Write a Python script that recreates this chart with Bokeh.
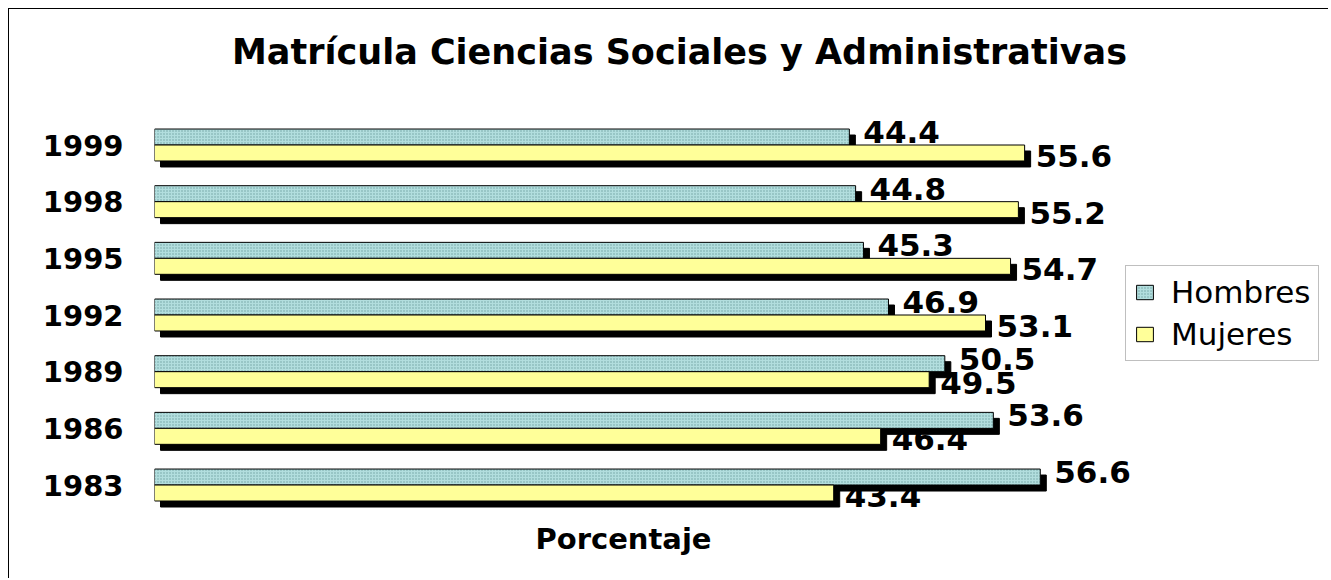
from bokeh.plotting import figure
from bokeh.models import ColumnDataSource, Range1d, FixedTicker, Label, Legend, LegendItem
from bokeh.embed import file_html
from bokeh.resources import INLINE
from bokeh.core.properties import value

# ---- data ----
years = ["1983", "1986", "1989", "1992", "1995", "1998", "1999"]
hombres = [56.6, 53.6, 50.5, 46.9, 45.3, 44.8, 44.4]
mujeres = [43.4, 46.4, 49.5, 53.1, 54.7, 55.2, 55.6]
series_names = ["Hombres", "Mujeres"]
title_text = "Matrícula Ciencias Sociales y Administrativas"
axis_title = "Porcentaje"

# ---- layout constants ----
W, H = 1320, 570
PX_PER_UNIT_X = 15.65
PX_PER_ROW = 56.67
FRAME_LEFT = 145
BAR_H = 0.282
SHADOW_DX = 6 / PX_PER_UNIT_X
SHADOW_DY = 6 / PX_PER_ROW
FONT = "DejaVu Sans"

rows = list(range(len(years)))
x_end = (W - FRAME_LEFT) / PX_PER_UNIT_X
top_row_px = 135.5  # canvas px of top row center
y_end = rows[-1] + top_row_px / PX_PER_ROW
y_start = rows[-1] - (H - top_row_px) / PX_PER_ROW

yh = [r + BAR_H / 2 for r in rows]
ym = [r - BAR_H / 2 for r in rows]

src = ColumnDataSource(dict(
    yh=yh, ym=ym, h=hombres, m=mujeres,
    h_sh=[v + SHADOW_DX for v in hombres], m_sh=[v + SHADOW_DX for v in mujeres],
    yh_sh=[v - SHADOW_DY for v in yh], ym_sh=[v - SHADOW_DY for v in ym],
    h_lab=[f"{v:.1f}" for v in hombres], m_lab=[f"{v:.1f}" for v in mujeres],
))

p = figure(width=W, height=H, output_backend="svg", toolbar_location=None,
           x_range=Range1d(0, x_end), y_range=Range1d(y_start, y_end),
           x_axis_location=None, tools="")
p.min_border = 0
p.min_border_left = FRAME_LEFT
p.outline_line_color = None
p.xgrid.visible = False
p.ygrid.visible = False
p.background_fill_color = "white"
p.border_fill_color = "white"
p.styles = {"margin-left": "8px", "margin-top": "8px",
            "border-top": "1px solid black", "border-left": "1px solid black"}

# y axis with years
ax = p.yaxis[0]
ax.ticker = FixedTicker(ticks=rows)
ax.major_label_overrides = {r: y for r, y in zip(rows, years)}
ax.axis_line_color = None
ax.major_tick_line_color = None
ax.minor_tick_line_color = None
ax.major_tick_out = 0
ax.major_tick_in = 0
ax.major_label_standoff = 31
ax.major_label_text_font = FONT
ax.major_label_text_font_style = "bold"
ax.major_label_text_font_size = "29px"
ax.major_label_text_color = "black"

# shadows + bars
p.hbar(y="yh_sh", left=SHADOW_DX, right="h_sh", height=BAR_H, source=src,
       fill_color="black", line_color="black")
rh = p.hbar(y="yh", left=0, right="h", height=BAR_H, source=src,
            fill_color="#b2dede", line_color="black", line_width=1,
            hatch_pattern=".", hatch_color="#6fa3a3", hatch_scale=3, hatch_weight=1)
p.hbar(y="ym_sh", left=SHADOW_DX, right="m_sh", height=BAR_H, source=src,
       fill_color="black", line_color="black")
rm = p.hbar(y="ym", left=0, right="m", height=BAR_H, source=src,
            fill_color="#ffff99", line_color="black", line_width=1)

# value labels
p.text(x="h", y="yh", text="h_lab", source=src, x_offset=14, y_offset=-5,
       text_font=value(FONT), text_font_style="bold", text_font_size="31px",
       text_baseline="middle", text_align="left", text_color="black")
p.text(x="m", y="ym", text="m_lab", source=src, x_offset=11, y_offset=3,
       text_font=value(FONT), text_font_style="bold", text_font_size="31px",
       text_baseline="middle", text_align="left", text_color="black")

# title and axis title
p.add_layout(Label(x=525, y=H - 42, x_units="screen", y_units="screen", text=title_text,
                   text_font=FONT, text_font_style="bold", text_font_size="35px",
                   text_align="center", text_baseline="middle", text_color="black"))
p.add_layout(Label(x=469, y=H - 529, x_units="screen", y_units="screen", text=axis_title,
                   text_font=FONT, text_font_style="bold", text_font_size="29px",
                   text_align="center", text_baseline="middle", text_color="black"))

legend = Legend(items=[LegendItem(label=series_names[0], renderers=[rh]),
                       LegendItem(label=series_names[1], renderers=[rm])],
                location=(971, H - 352))
legend.border_line_color = "#808080"
legend.border_line_width = 1
legend.background_fill_color = "white"
legend.background_fill_alpha = 1
legend.label_text_font = FONT
legend.label_text_font_size = "31px"
legend.label_text_color = "black"
legend.glyph_width = 21
legend.glyph_height = 18
legend.label_standoff = 16
legend.padding = 8
legend.spacing = 6
legend.margin = 0
p.add_layout(legend)

open("out.html", "w").write(file_html(p, INLINE))
